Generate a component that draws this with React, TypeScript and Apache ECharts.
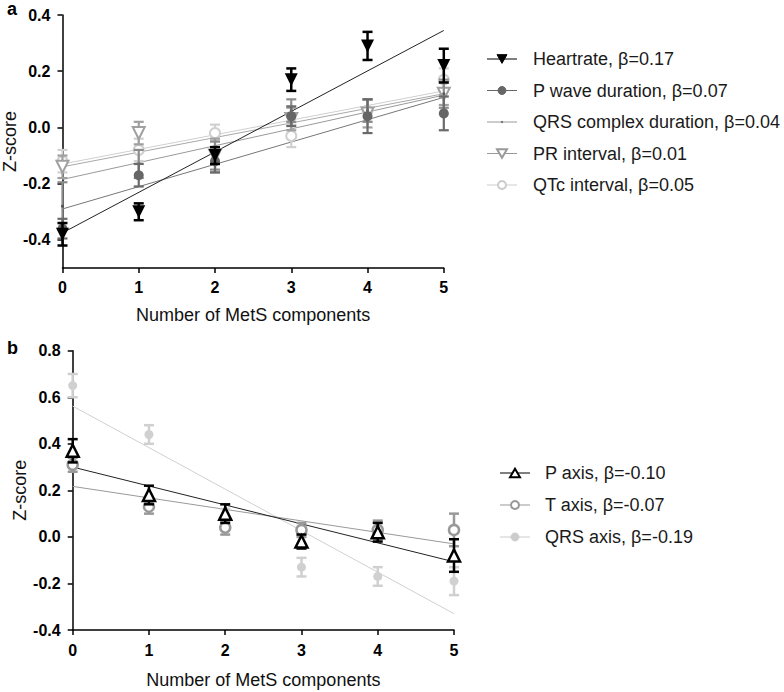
import React, { useEffect, useRef } from "react";
import * as echarts from "echarts";

// ---------- data ----------
const components = [0, 1, 2, 3, 4, 5];

// Panel a (means and error half-widths)
const heartrateMean = [-0.38, -0.3, -0.1, 0.17, 0.29, 0.22];
const heartrateErr = [0.04, 0.03, 0.03, 0.04, 0.05, 0.06];
const pWaveMean = [-0.36, -0.17, -0.12, 0.04, 0.04, 0.05];
const pWaveErr = [0.035, 0.04, 0.04, 0.035, 0.06, 0.06];
const qrsDurMean = [-0.28, -0.13, -0.1, 0.06, 0.06, 0.12];
const qrsDurErr = [0.085, 0.05, 0.05, 0.04, 0.04, 0.05];
const prMean = [-0.14, -0.02, -0.1, 0.03, 0.05, 0.12];
const prErr = [0.04, 0.04, 0.06, 0.04, 0.05, 0.04];
const qtcMean = [-0.12, -0.08, -0.02, -0.03, 0.06, 0.17];
const qtcErr = [0.04, 0.04, 0.03, 0.04, 0.04, 0.04];

// fitted lines (value at x=0, value at x=5)
const heartrateFit = [-0.375, 0.345];
const pWaveFit = [-0.29, 0.107];
const qrsDurFit = [-0.185, 0.115];
const prFit = [-0.14, 0.12];
const qtcFit = [-0.13, 0.13];

// Panel b
const pAxisMean = [0.37, 0.18, 0.1, -0.02, 0.02, -0.08];
const pAxisErr = [0.05, 0.04, 0.04, 0.03, 0.04, 0.07];
const tAxisMean = [0.31, 0.13, 0.04, 0.03, 0.03, 0.03];
const tAxisErr = [0.03, 0.03, 0.03, 0.03, 0.04, 0.07];
const qrsAxisMean = [0.65, 0.44, 0.08, -0.13, -0.17, -0.19];
const qrsAxisErr = [0.05, 0.04, 0.04, 0.04, 0.04, 0.06];

const pAxisFit = [0.3, -0.107];
const tAxisFit = [0.217, -0.03];
const qrsAxisFit = [0.562, -0.33];

const topTicks = [-0.4, -0.2, 0, 0.2, 0.4];

const legendA = [
  "Heartrate, β=0.17",
  "P wave duration, β=0.07",
  "QRS complex duration, β=0.04",
  "PR interval, β=0.01",
  "QTc interval, β=0.05",
];
const legendB = ["P axis, β=-0.10", "T axis, β=-0.07", "QRS axis, β=-0.19"];

// ---------- helpers ----------
const FONT = "'Liberation Sans', Arial, Helvetica, sans-serif";
const NAME_SIZE = 18;
const TICK_SIZE = 16;

function errorSeries(gi: number, means: number[], errs: number[], color: string, width: number, z: number) {
  return {
    type: "custom",
    xAxisIndex: gi,
    yAxisIndex: gi,
    z,
    silent: true,
    data: components.map((x, i) => [x, means[i] - errs[i], means[i] + errs[i]]),
    encode: { x: 0, y: [1, 2] },
    renderItem: (params: any, api: any) => {
      const x = api.value(0);
      const lo = api.coord([x, api.value(1)]);
      const hi = api.coord([x, api.value(2)]);
      const hw = 5;
      const style = { stroke: color, lineWidth: width, fill: null };
      return {
        type: "group",
        children: [
          { type: "line", shape: { x1: lo[0], y1: lo[1], x2: hi[0], y2: hi[1] }, style },
          { type: "line", shape: { x1: lo[0] - hw, y1: lo[1], x2: lo[0] + hw, y2: lo[1] }, style },
          { type: "line", shape: { x1: hi[0] - hw, y1: hi[1], x2: hi[0] + hw, y2: hi[1] }, style },
        ],
      };
    },
  };
}

function markerSeries(
  gi: number,
  means: number[],
  symbol: string,
  size: number,
  rotate: number,
  fill: string,
  stroke: string,
  bw: number,
  z: number
) {
  return {
    type: "scatter",
    xAxisIndex: gi,
    yAxisIndex: gi,
    z,
    silent: true,
    symbol,
    symbolSize: size,
    symbolRotate: rotate,
    itemStyle: { color: fill, borderColor: stroke, borderWidth: bw, opacity: 1 },
    data: components.map((x, i) => [x, means[i]]),
  };
}

function fitSeries(gi: number, fit: number[], color: string, z: number) {
  return {
    type: "line",
    xAxisIndex: gi,
    yAxisIndex: gi,
    z,
    silent: true,
    showSymbol: false,
    lineStyle: { color, width: 1 },
    data: [
      [components[0], fit[0]],
      [components[components.length - 1], fit[1]],
    ],
  };
}

function xAxisCfg(gi: number, margin: number, nameGap: number) {
  return {
    type: "value",
    gridIndex: gi,
    min: 0,
    max: 5,
    interval: 1,
    name: "Number of MetS components",
    nameLocation: "middle",
    nameGap,
    nameTextStyle: { fontSize: NAME_SIZE, color: "#111", fontFamily: FONT },
    axisLine: { show: true, onZero: false, lineStyle: { color: "#000", width: 1.5 } },
    axisTick: { show: true, length: 5, lineStyle: { color: "#000", width: 1.5 } },
    axisLabel: { fontSize: TICK_SIZE, fontWeight: "bold", color: "#000", fontFamily: FONT, margin },
    splitLine: { show: false },
  };
}

function triPoints(cx: number, cy: number, s: number, down: boolean) {
  const h = s * 0.87;
  return down
    ? [
        [cx - s / 2, cy - h / 2],
        [cx + s / 2, cy - h / 2],
        [cx, cy + h / 2],
      ]
    : [
        [cx - s / 2, cy + h / 2],
        [cx + s / 2, cy + h / 2],
        [cx, cy - h / 2],
      ];
}

export default function App() {
  const ref = useRef<HTMLDivElement>(null);

  useEffect(() => {
    const chart = echarts.init(ref.current!, null, { renderer: "svg" });

    // legend graphics
    const legA = [
      { color: "#000", kind: "triDown", fill: "#000" },
      { color: "#666", kind: "circle", fill: "#666" },
      { color: "#999", kind: "dot", fill: "#777" },
      { color: "#999", kind: "triDown", fill: "#fff" },
      { color: "#ccc", kind: "circle", fill: "#fff" },
    ];
    const rowsA = [59, 90.5, 122, 153.5, 185];
    const legB = [
      { color: "#000", kind: "triUp", fill: "#fff" },
      { color: "#999", kind: "circle", fill: "#fff" },
      { color: "#ccc", kind: "circle", fill: "#ccc" },
    ];
    const rowsB = [473, 505, 537];

    const graphics: any[] = [];
    const addLegend = (items: any[], rows: number[], labels: string[], x0: number, x1: number, tx: number) => {
      items.forEach((it, i) => {
        const y = rows[i];
        const cx = (x0 + x1) / 2;
        graphics.push({ type: "line", shape: { x1: x0, y1: y, x2: x1, y2: y }, style: { stroke: it.color, lineWidth: 1 } });
        if (it.kind === "triDown" || it.kind === "triUp") {
          graphics.push({
            type: "polygon",
            shape: { points: triPoints(cx, y, 10, it.kind === "triDown") },
            style: { fill: it.fill, stroke: it.color, lineWidth: it.fill === "#fff" ? 2 : 1 },
          });
        } else if (it.kind === "circle") {
          graphics.push({
            type: "circle",
            shape: { cx, cy: y, r: 4 },
            style: { fill: it.fill, stroke: it.color, lineWidth: it.fill === "#fff" ? 2 : 1 },
          });
        } else {
          graphics.push({ type: "circle", shape: { cx, cy: y, r: 1.2 }, style: { fill: it.fill } });
        }
        graphics.push({
          type: "text",
          x: tx,
          y,
          style: {
            text: labels[i],
            fontSize: NAME_SIZE,
            fill: "#1a1a1a",
            fontFamily: FONT,
            verticalAlign: "middle",
            align: "left",
          },
        });
      });
    };
    addLegend(legA, rowsA, legendA, 487, 517, 533);
    addLegend(legB, rowsB, legendB, 500, 530, 545);

    graphics.push({
      type: "text",
      x: 7,
      y: 9,
      style: { text: "a", fontSize: 18, fontWeight: "bold", fill: "#000", fontFamily: FONT, verticalAlign: "middle" },
    });
    graphics.push({
      type: "text",
      x: 7,
      y: 348,
      style: { text: "b", fontSize: 18, fontWeight: "bold", fill: "#000", fontFamily: FONT, verticalAlign: "middle" },
    });

    const option: any = {
      animation: false,
      backgroundColor: "#fff",
      grid: [
        { left: 62.3, top: 15, width: 381.5, height: 253 },
        { left: 72.7, top: 350.7, width: 381.3, height: 279.3 },
      ],
      xAxis: [xAxisCfg(0, 11, 38), xAxisCfg(1, 12, 41)],
      yAxis: [
        {
          type: "value",
          gridIndex: 0,
          min: -0.5,
          max: 0.4,
          name: "Z-score",
          nameLocation: "middle",
          nameGap: 38,
          nameTextStyle: { fontSize: NAME_SIZE, color: "#111", fontFamily: FONT },
          axisLine: { show: true, onZero: false, lineStyle: { color: "#000", width: 1.5 } },
          axisTick: { show: true, length: 5, customValues: topTicks, lineStyle: { color: "#000", width: 1.5 } },
          axisLabel: {
            customValues: topTicks,
            fontSize: TICK_SIZE,
            fontWeight: "bold",
            color: "#000",
            fontFamily: FONT,
            margin: 12,
            formatter: (v: number) => v.toFixed(1),
          },
          splitLine: { show: false },
        },
        {
          type: "value",
          gridIndex: 1,
          min: -0.4,
          max: 0.8,
          interval: 0.2,
          name: "Z-score",
          nameLocation: "middle",
          nameGap: 44,
          nameTextStyle: { fontSize: NAME_SIZE, color: "#111", fontFamily: FONT },
          axisLine: { show: true, onZero: false, lineStyle: { color: "#000", width: 1.5 } },
          axisTick: { show: true, length: 5, lineStyle: { color: "#000", width: 1.5 } },
          axisLabel: {
            fontSize: TICK_SIZE,
            fontWeight: "bold",
            color: "#000",
            fontFamily: FONT,
            margin: 12,
            formatter: (v: number) => v.toFixed(1),
          },
          splitLine: { show: false },
        },
      ],
      graphic: graphics,
      series: [
        // panel a fit lines
        fitSeries(0, qtcFit, "#cfcfcf", 2),
        fitSeries(0, prFit, "#a8a8a8", 2),
        fitSeries(0, qrsDurFit, "#999", 2),
        fitSeries(0, pWaveFit, "#777", 2),
        fitSeries(0, heartrateFit, "#222", 2),
        // panel a markers + error bars (light to dark)
        errorSeries(0, qtcMean, qtcErr, "#d0d0d0", 2.2, 3),
        markerSeries(0, qtcMean, "circle", 10, 0, "#fff", "#d0d0d0", 2, 3),
        errorSeries(0, prMean, prErr, "#a0a0a0", 2.2, 4),
        markerSeries(0, prMean, "triangle", 12, 180, "#fff", "#a0a0a0", 2, 4),
        errorSeries(0, qrsDurMean, qrsDurErr, "#8c8c8c", 2.2, 5),
        markerSeries(0, qrsDurMean, "circle", 3, 0, "#555", "#555", 0, 5),
        errorSeries(0, pWaveMean, pWaveErr, "#6a6a6a", 2.2, 6),
        markerSeries(0, pWaveMean, "circle", 10, 0, "#666", "#666", 0, 6),
        errorSeries(0, heartrateMean, heartrateErr, "#000", 2.5, 7),
        markerSeries(0, heartrateMean, "triangle", 13, 180, "#000", "#000", 0, 7),
        // panel b
        fitSeries(1, qrsAxisFit, "#d0d0d0", 2),
        fitSeries(1, tAxisFit, "#999", 2),
        fitSeries(1, pAxisFit, "#222", 2),
        errorSeries(1, qrsAxisMean, qrsAxisErr, "#d0d0d0", 2.5, 3),
        markerSeries(1, qrsAxisMean, "circle", 9, 0, "#d0d0d0", "#d0d0d0", 0, 3),
        errorSeries(1, tAxisMean, tAxisErr, "#999", 2.5, 4),
        markerSeries(1, tAxisMean, "circle", 10, 0, "#fff", "#999", 2.5, 4),
        errorSeries(1, pAxisMean, pAxisErr, "#000", 2.5, 5),
        markerSeries(1, pAxisMean, "triangle", 12, 0, "#fff", "#000", 2.5, 5),
      ],
    };

    chart.setOption(option);
    return () => chart.dispose();
  }, []);

  return <div ref={ref} style={{ position: "fixed", left: 0, top: 0, width: 784, height: 692 }} />;
}
